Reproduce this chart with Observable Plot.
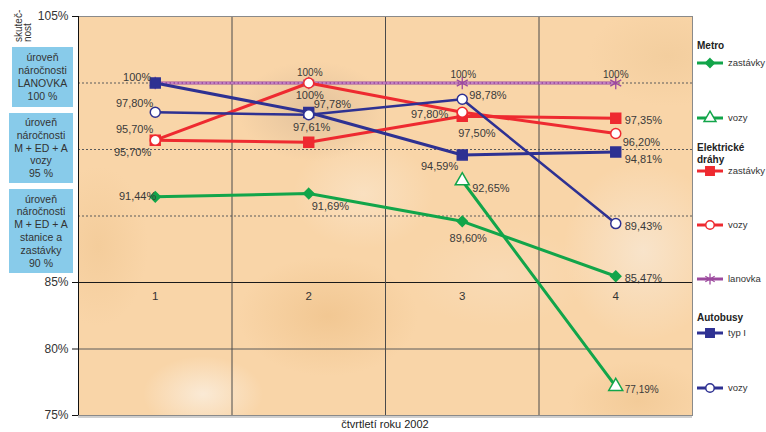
<!DOCTYPE html>
<html lang="cs">
<head>
<meta charset="utf-8">
<script src="https://cdn.jsdelivr.net/npm/d3@7"></script>
<script src="https://cdn.jsdelivr.net/npm/@observablehq/plot@0.6"></script>
<style>
  html, body { margin: 0; padding: 0; background: #fff; }
  body { width: 766px; height: 432px; position: relative; overflow: hidden;
         font-family: "Liberation Sans", Arial, sans-serif; color: #333; }
  #bg { position: absolute; left: 78px; top: 16px; width: 614px; height: 399px;
        background:
          radial-gradient(ellipse 75px 50px at 235px 95px, rgba(205,175,145,0.5), rgba(205,175,145,0) 100%),
          radial-gradient(ellipse 60px 38px at 125px 378px, rgba(250,236,218,0.9), rgba(250,236,218,0) 100%),
          radial-gradient(ellipse 70px 55px at 285px 178px, rgba(250,228,200,0.75), rgba(250,228,200,0) 100%),
          radial-gradient(ellipse 80px 90px at 565px 235px, rgba(248,230,208,0.85), rgba(248,230,208,0) 100%),
          radial-gradient(ellipse 90px 60px at 250px 300px, rgba(238,192,135,0.65), rgba(238,192,135,0) 100%),
          radial-gradient(ellipse 70px 40px at 560px 385px, rgba(238,195,140,0.55), rgba(238,195,140,0) 100%),
          radial-gradient(ellipse 50px 80px at 20px 230px, rgba(240,198,145,0.55), rgba(240,198,145,0) 100%),
          radial-gradient(ellipse 80px 50px at 590px 40px, rgba(238,200,150,0.55), rgba(238,200,150,0) 100%),
          radial-gradient(ellipse 90px 50px at 420px 260px, rgba(249,222,190,0.6), rgba(249,222,190,0) 100%),
          #f9d5a8; }
  #chart { position: absolute; left: 0; top: 0; }
  .req { position: absolute; background: #88cbea; color: #333; font-size: 10.5px;
         line-height: 12.8px; text-align: center; display: flex; flex-direction: column;
         justify-content: center; }
  #xlabel { position: absolute; left: 78px; width: 614px; top: 418px; text-align: center;
            font-size: 11px; color: #222; }
  #ylabel { position: absolute; left: 14px; top: 42px; transform-origin: 0 0;
            transform: rotate(-90deg); font-size: 10px; line-height: 9px; color: #333; white-space: nowrap; }
  #legend { position: absolute; left: 0; top: 0; }
</style>
</head>
<body>
<div id="bg"></div>
<div id="chart"></div>
<div id="ylabel">skuteč-<br>nost</div>
<div id="reqs"></div>
<div id="xlabel">čtvrtletí roku 2002</div>
<svg id="legend" width="766" height="432"></svg>
<script>
// Quarterly fulfilment (%) of the service-quality targets, 2002
const quarters = [1, 2, 3, 4];
const metroZastavky = [91.44, 91.69, 89.60, 85.47];
const metroVozy = [null, null, 92.65, 77.19];
const edZastavky = [95.70, 95.55, 97.50, 97.35];
const edVozy = [95.70, 100, 97.80, 96.20];
const lanovka = [100, 100, 100, 100];
const busTypI = [100, 97.78, 94.59, 94.81];
const busVozy = [97.80, 97.61, 98.78, 89.43];

const yTicks = [75, 80, 85, 105];
const requirementLevels = [100, 95, 90];
const requirementTexts = [
  ["úroveň", "náročnosti", "LANOVKA", "100 %"],
  ["úroveň", "náročnosti", "M + ED + A", "vozy", "95 %"],
  ["úroveň", "náročnosti", "M + ED + A", "stanice a", "zastávky", "90 %"]
];

const green = "#12a54a", red = "#ee2a30", navy = "#2e3192", purple = "#9c4a9e";

const series = [
  {key: "lanovka", name: "lanovka", values: lanovka, color: purple, symbol: "asterisk", r: 6, fill: "none", width: 3},
  {key: "edZastavky", name: "zastávky", values: edZastavky, color: red, symbol: "square", r: 5.6, fill: red, width: 3},
  {key: "edVozy", name: "vozy", values: edVozy, color: red, symbol: "circle", r: 5, fill: "white", width: 3},
  {key: "busTypI", name: "typ I", values: busTypI, color: navy, symbol: "square", r: 5.6, fill: navy, width: 3},
  {key: "busVozy", name: "vozy", values: busVozy, color: navy, symbol: "circle", r: 5, fill: "white", width: 2.5},
  {key: "metroZastavky", name: "zastávky", values: metroZastavky, color: green, symbol: "diamond2", r: 4.6, fill: green, width: 3},
  {key: "metroVozy", name: "vozy", values: metroVozy, color: green, symbol: "triangle", r: 5.2, fill: "white", width: 3}
];

const rows = series.flatMap(s =>
  quarters.map((q, i) => ({series: s.key, quarter: q, value: s.values[i]}))
).filter(d => d.value != null);

// where each value label sits relative to its point: [dx, dy, textAnchor, fontSize]
const labelPlacement = {
  "busTypI|1": [-4, -6, "end"], "busVozy|1": [-2, -9, "end"], "edVozy|1": [-2, -11, "end"],
  "edZastavky|1": [-4, 12, "end"], "metroZastavky|1": [1, 0, "end"],
  "lanovka|2": [1, -10, "middle", 10], "edVozy|2": [1, 12, "middle"], "busTypI|2": [5, -8, "start"],
  "busVozy|2": [3, 13, "middle"], "metroZastavky|2": [3, 13, "start"],
  "lanovka|3": [1, -8, "middle", 10], "busVozy|3": [7, -4, "start"], "edVozy|3": [-14, 2, "end"],
  "edZastavky|3": [-4, 17, "start"], "busTypI|3": [-4, 12, "end"], "metroVozy|3": [10, 8, "start"],
  "metroZastavky|3": [6, 17, "middle"],
  "lanovka|4": [0, -8, "middle", 10], "edZastavky|4": [9, 2, "start"], "edVozy|4": [7, 9, "start"],
  "busTypI|4": [9, 7, "start"], "busVozy|4": [9, 3, "start"], "metroZastavky|4": [9, 2, "start"],
  "metroVozy|4": [9, 3, "start", 10]
};
const fmt = v => (v === 100 ? "100" : v.toFixed(2).replace(".", ",")) + "%";

const labelMarks = Object.entries(labelPlacement).map(([k, [dx, dy, anchor, size]]) => {
  const [key, q] = k.split("|");
  const d = rows.filter(r => r.series === key && r.quarter === +q);
  return Plot.text(d, {x: "quarter", y: "value", text: d => fmt(d.value), dx, dy,
    textAnchor: anchor, fontSize: size || 11, fill: "#3a3a3a"});
});

const boundaries = [quarters[0] - 0.5, ...quarters.map(q => q + 0.5)];

const seriesMarks = series.flatMap(s => {
  const d = rows.filter(r => r.series === s.key);
  const marks = [Plot.line(d, {x: "quarter", y: "value", stroke: s.color, strokeWidth: s.width})];
  if (s.key === "lanovka")
    marks.push(Plot.line(d, {x: "quarter", y: "value", stroke: "#e6b8e3", strokeWidth: 1, strokeDasharray: "2,2"}));
  return marks;
});
const dotMarks = series.map(s => {
  const d = rows.filter(r => r.series === s.key);
  return s.symbol === "asterisk"
    ? Plot.dot(d, {x: "quarter", y: "value", symbol: "asterisk", r: s.r, stroke: s.color, strokeWidth: 1.3})
    : Plot.dot(d, {x: "quarter", y: "value", symbol: s.symbol, r: s.r, fill: s.fill, stroke: s.color, strokeWidth: 1.5});
});

const chart = Plot.plot({
  width: 766,
  height: 432,
  marginLeft: 78,
  marginRight: 74,
  marginTop: 16,
  marginBottom: 17,
  style: {fontFamily: "Liberation Sans, Arial, sans-serif", fontSize: "11px", color: "#333", background: "transparent", overflow: "visible"},
  x: {domain: [boundaries[0], boundaries[boundaries.length - 1]]},
  y: {domain: [75, 105]},
  marks: [
    Plot.ruleY(requirementLevels, {stroke: "#5a5a5a", strokeDasharray: "2,2"}),
    Plot.ruleY([80], {stroke: "#5a5a5a"}),
    Plot.ruleY([85], {stroke: "#1a1a1a"}),
    Plot.ruleX(boundaries.slice(1, -1), {stroke: "#4a4a4a"}),
    Plot.ruleY([75], {stroke: "#cfcfcf", strokeWidth: 2, dy: 1.5}),
    Plot.frame({stroke: "#8a8a8a"}),
    Plot.ruleX([boundaries[0]], {stroke: "#111"}),
    Plot.axisY({ticks: yTicks, tickFormat: d => d + "%", tickSize: 6, tickPadding: 4, fontSize: 12, label: null, stroke: "#111"}),
    Plot.axisX({ticks: quarters, tickFormat: d3.format("d"), tickSize: 0, tickPadding: 0, dy: -124, fontSize: 11.5, label: null}),
    ...seriesMarks,
    ...dotMarks,
    ...labelMarks
  ]
});
document.getElementById("chart").append(chart);

// requirement-level boxes along the left edge
const boxGeom = [[12, 47, 61, 60], [9, 113, 64, 70], [9, 189, 64, 84]];
const reqs = document.getElementById("reqs");
requirementTexts.forEach((lines, i) => {
  const [l, t, w, h] = boxGeom[i];
  const div = document.createElement("div");
  div.className = "req";
  Object.assign(div.style, {left: l + "px", top: t + "px", width: w + "px", height: h + "px"});
  div.innerHTML = lines.map(s => `<div>${s}</div>`).join("");
  reqs.append(div);
});

// legend
const legendGroups = [
  {title: ["Metro"], titleY: 45, items: [["metroZastavky", 63], ["metroVozy", 118]]},
  {title: ["Elektrické", "dráhy"], titleY: 147, items: [["edZastavky", 171], ["edVozy", 225], ["lanovka", 279]]},
  {title: ["Autobusy"], titleY: 317, items: [["busTypI", 333], ["busVozy", 388]]}
];
const symbolTypes = {square: d3.symbolSquare, circle: d3.symbolCircle, diamond2: d3.symbolDiamond2,
                     triangle: d3.symbolTriangle, asterisk: d3.symbolAsterisk};
const lg = d3.select("#legend");
legendGroups.forEach(g => {
  g.title.forEach((t, i) => lg.append("text").attr("x", 697).attr("y", g.titleY + i * 12)
    .attr("dy", "0.35em").attr("font-size", 10).attr("font-weight", "bold").attr("fill", "#222").text(t));
  g.items.forEach(([key, y]) => {
    const s = series.find(d => d.key === key);
    lg.append("line").attr("x1", 697).attr("x2", 723).attr("y1", y).attr("y2", y)
      .attr("stroke", s.color).attr("stroke-width", 3);
    const r = s.r * 0.85;
    const p = lg.append("path").attr("transform", `translate(710,${y})`)
      .attr("d", d3.symbol(symbolTypes[s.symbol], r * r * Math.PI)());
    if (s.symbol === "asterisk") p.attr("fill", "none").attr("stroke", s.color).attr("stroke-width", 1.3);
    else p.attr("fill", s.fill).attr("stroke", s.color).attr("stroke-width", 1.5);
    lg.append("text").attr("x", 728).attr("y", y).attr("dy", "0.35em").attr("font-size", 9.5)
      .attr("fill", "#333").text(s.name);
  });
});
</script>
</body>
</html>
